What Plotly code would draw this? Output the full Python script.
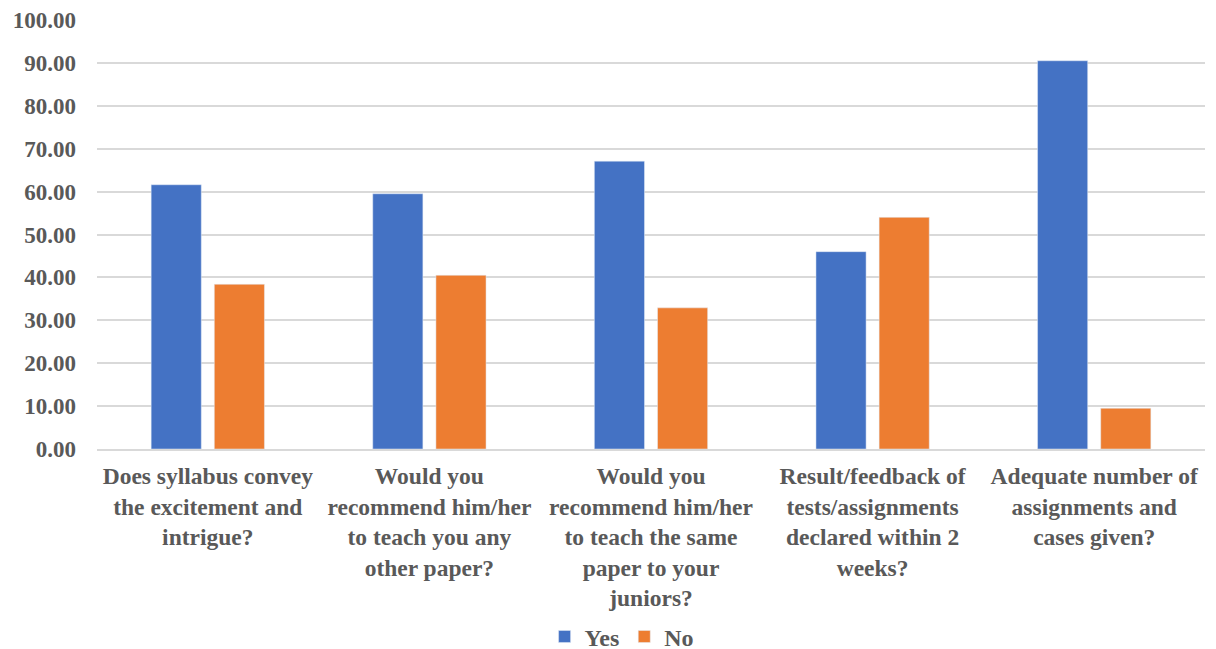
import plotly.graph_objects as go

categories = [
    "Does syllabus convey<br>the excitement and<br>intrigue?",
    "Would you<br>recommend him/her<br>to teach you any<br>other paper?",
    "Would you<br>recommend him/her<br>to teach the same<br>paper to your<br>juniors?",
    "Result/feedback of<br>tests/assignments<br>declared within 2<br>weeks?",
    "Adequate number of<br>assignments and<br>cases given?",
]
yes_values = [61.6, 59.5, 67.1, 46.0, 90.5]
no_values = [38.4, 40.5, 32.9, 54.0, 9.5]

font_family = "Liberation Serif, Times New Roman, serif"
grey = "#595959"

fig = go.Figure()
fig.add_trace(go.Bar(name="Yes", x=categories, y=yes_values, marker_color="#4472C4"))
fig.add_trace(go.Bar(name="No", x=categories, y=no_values, marker_color="#ED7D31"))

fig.update_layout(
    width=1216, height=649,
    margin=dict(l=89, r=19, t=12, b=208),
    barmode="group", bargap=0.43, bargroupgap=0.206,
    plot_bgcolor="white", paper_bgcolor="white",
    font=dict(family=font_family, size=23, color=grey),
    legend=dict(orientation="h", x=0.505, xref="container", xanchor="center",
                y=0.031, yref="container", yanchor="middle",
                font=dict(family=font_family, size=24, color=grey, weight="bold"),
                itemwidth=30, tracegroupgap=0),
)
fig.update_yaxes(range=[0, 100], dtick=10, tickformat=".2f", showgrid=True,
                 gridcolor="#d9d9d9", gridwidth=1.5, zeroline=False, automargin=False,
                 tickfont=dict(family=font_family, size=23, color=grey, weight="bold"),
                 ticklabelstandoff=20, showline=False)
fig.update_xaxes(showline=True, linecolor="#d9d9d9", linewidth=1.5, automargin=False,
                 tickfont=dict(family=font_family, size=23.5, color=grey, weight="bold"),
                 ticklabelstandoff=5)

fig.write_html("out.html")
